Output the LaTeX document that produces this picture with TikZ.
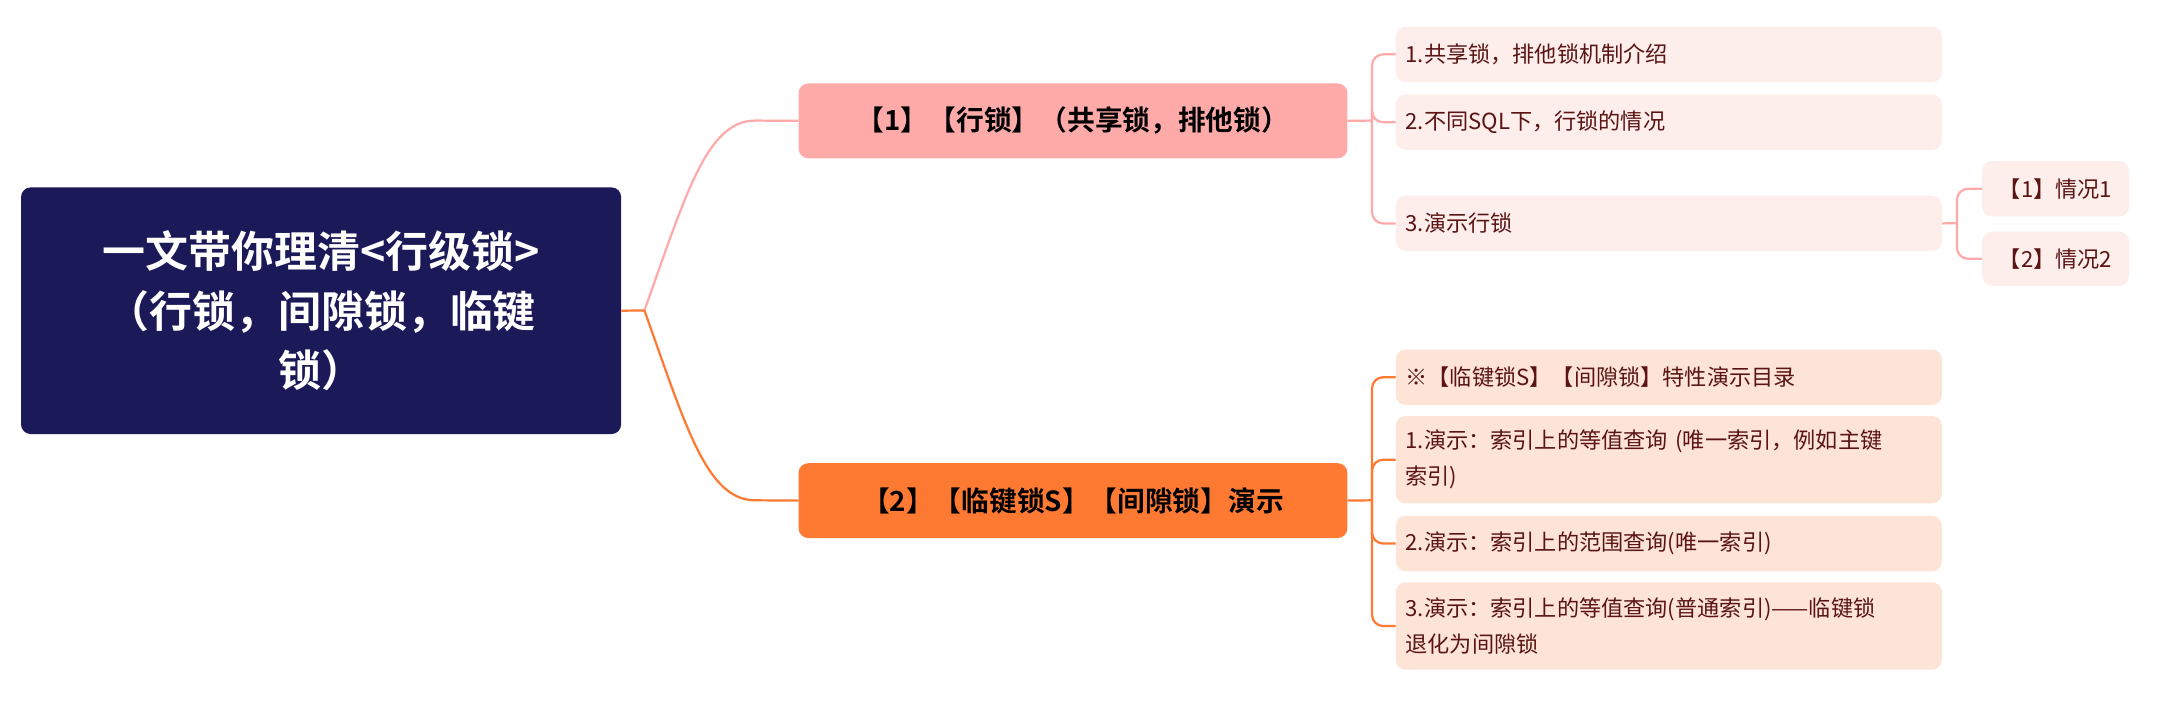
\documentclass[tikz,border=0pt]{standalone}
\usepackage{fontspec}
\setmainfont{Noto Sans CJK SC}
\newfontfamily\cjkb{Noto Sans CJK SC Bold}
\definecolor{rootc}{HTML}{1B1958}
\definecolor{pinkc}{HTML}{FDAAA8}
\definecolor{orc}{HTML}{FE7A33}
\definecolor{lpink}{HTML}{FDEDEB}
\definecolor{lor}{HTML}{FDE4D6}
\definecolor{ltxt}{HTML}{5A1414}
\tikzset{
 x=1pt,y=-1pt,
 box/.style={anchor=north west,rounded corners=7pt,inner sep=0pt},
 leafP/.style={box,fill=lpink,text=ltxt,font=\fontsize{16}{26}\selectfont,align=left,text width=380pt,minimum height=40pt,inner xsep=7pt},
 leafO/.style={box,fill=lor,text=ltxt,font=\fontsize{16}{26}\selectfont,align=left,text width=380pt,minimum height=40pt,inner xsep=7pt},
 lnP/.style={draw=pinkc,line width=1.6pt},
 lnO/.style={draw=orc,line width=1.6pt},
}
\begin{document}
\begin{tikzpicture}
\useasboundingbox (0,0) rectangle (1560,508);
\node[box,fill=rootc,text=white,minimum width=433pt,minimum height=178pt,text width=380pt,align=center,font=\cjkb\fontsize{31}{43}\selectfont] (root) at (15,135) {一文带你理清<行级锁>\\（行锁，间隙锁，临键\\锁）};
\node[box,fill=pinkc,minimum width=396pt,minimum height=54pt,font=\cjkb\fontsize{20}{24}\selectfont] (b1) at (576,60) {【1】【行锁】（共享锁，排他锁）};
\node[box,fill=orc,minimum width=396pt,minimum height=54pt,font=\cjkb\fontsize{20}{24}\selectfont] (b2) at (576,334) {【2】【临键锁S】【间隙锁】演示};
\node[leafP,minimum width=389pt] (p1) at (1007,19) {1.共享锁，排他锁机制介绍};
\node[leafP] (p2) at (1007,68) {2.不同SQL下，行锁的情况};
\node[leafP] (p3) at (1007,141) {3.演示行锁};
\node[box,fill=lpink,text=ltxt,font=\fontsize{16}{20}\selectfont,minimum width=106pt,minimum height=40pt] (s1) at (1430,116) {【1】情况1};
\node[box,fill=lpink,text=ltxt,font=\fontsize{16}{20}\selectfont,minimum width=106pt,minimum height=39pt] (s2) at (1430,167) {【2】情况2};
\node[leafO] (o1) at (1007,252) {※【临键锁S】【间隙锁】特性演示目录};
\node[leafO,minimum height=63pt] (o2) at (1007,300) {1.演示：索引上的等值查询 (唯一索引，例如主键\\索引)};
\node[leafO] (o3) at (1007,372) {2.演示：索引上的范围查询(唯一索引)};
\node[leafO,minimum height=63pt] (o4) at (1007,420) {3.演示：索引上的等值查询(普通索引)——临键锁\\退化为间隙锁};
% root connectors
\coordinate (rj) at (465,224);
\draw[lnP] (rj) .. controls (495,140) and (510,87) .. (545,87) -- (b1.west);
\draw[lnO] (rj) .. controls (495,308) and (510,361) .. (545,361) -- (b2.west);
\draw[lnO] (root.east) -- (rj);
% branch 1
\coordinate (j1) at (990,87);
\draw[lnP] (b1.east) -- (j1);
\foreach \n in {p1,p2,p3} \draw[lnP,rounded corners=8pt] (j1) |- (\n.west);
\coordinate (j3) at (1412,161);
\draw[lnP] (p3.east) -- (j3);
\foreach \n in {s1,s2} \draw[lnP,rounded corners=8pt] (j3) |- (s1.west |- \n.west);
% branch 2
\coordinate (j2) at (990,361);
\draw[lnO] (b2.east) -- (j2);
\foreach \n in {o1,o2,o3,o4} \draw[lnO,rounded corners=8pt] (j2) |- (\n.west);
\end{tikzpicture}
\end{document}
